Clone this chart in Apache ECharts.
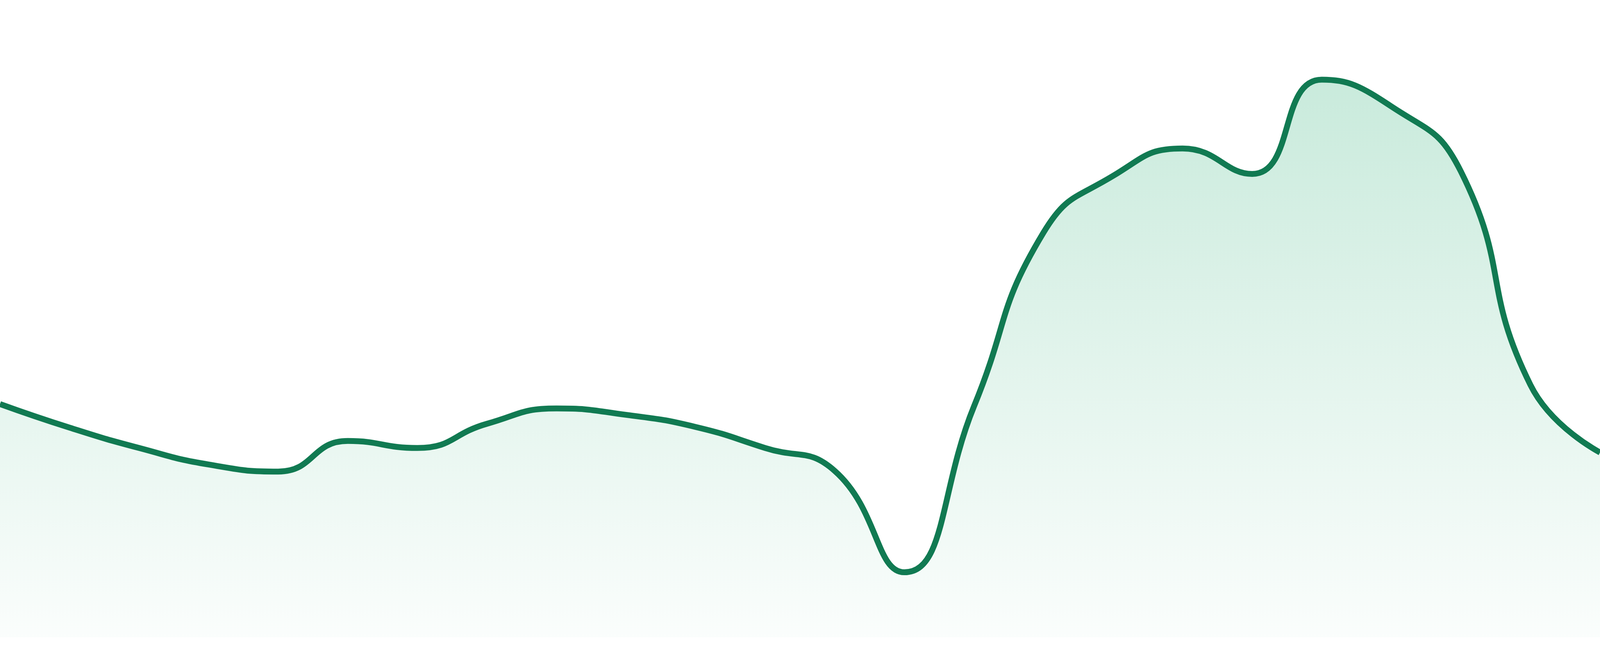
<!DOCTYPE html>
<html>
<head>
<meta charset="utf-8">
<script src="https://cdn.jsdelivr.net/npm/echarts@6/dist/echarts.min.js"></script>
<style>
html,body{margin:0;padding:0;background:#fff;overflow:hidden;width:100%;height:100%;}
#chart{width:100vw;height:100vh;}
</style>
</head>
<body>
<div id="chart"></div>
<script>
const categories = ['1','2','3','4','5','6','7','8','9','10','11','12','13','14','15','16','17','18','19','20','21','22','23','24'];
const values = [36.6, 32.9, 29.7, 27.1, 26.0, 30.8, 29.7, 33.5, 35.9, 34.9, 33.0, 29.7, 26.1, 10.2, 36.2, 63.5, 72.4, 76.7, 72.7, 87.5, 83.3, 73.1, 39.6, 29.0];

const chart = echarts.init(document.getElementById('chart'));
chart.setOption({
  animation: false,
  backgroundColor: '#ffffff',
  grid: { left: 0, right: 0, top: 0, bottom: 48 },
  xAxis: {
    type: 'category',
    data: categories,
    boundaryGap: false,
    show: false
  },
  yAxis: {
    type: 'value',
    min: 0,
    max: 100,
    show: false
  },
  series: [{
    type: 'line',
    data: values,
    smooth: true,
    symbol: 'none',
    lineStyle: { color: '#117a52', width: 15 },
    areaStyle: {
      color: new echarts.graphic.LinearGradient(0, 0, 0, 1, [
        { offset: 0, color: 'rgba(52,178,123,0.38)' },
        { offset: 1, color: 'rgba(52,178,123,0.03)' }
      ])
    }
  }]
});
window.addEventListener('resize', function(){ chart.resize(); });
</script>
</body>
</html>
